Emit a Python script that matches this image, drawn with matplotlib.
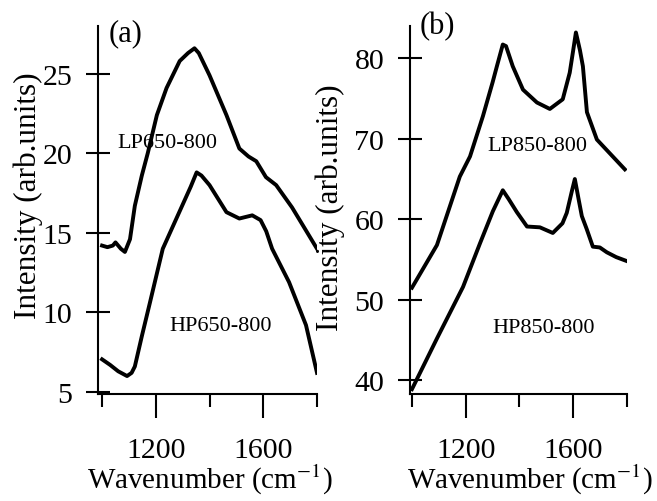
import matplotlib
matplotlib.use("Agg")
import matplotlib.pyplot as plt
from matplotlib.ticker import FixedLocator

plt.rcParams['font.family'] = ['Liberation Serif', 'DejaVu Serif']
plt.rcParams['mathtext.fontset'] = 'stix'

# (a) 650 series
a_lp_x = [1000, 1020, 1040, 1050, 1070, 1085, 1104, 1122, 1148, 1170, 1204, 1240, 1289,
          1320, 1344, 1360, 1400, 1463, 1511, 1545, 1574, 1610, 1648, 1707, 1750, 1800]
a_lp_y = [14.2, 14.1, 14.2, 14.4, 14.0, 13.8, 14.6, 16.7, 18.6, 20.0, 22.4, 24.1, 25.8,
          26.3, 26.6, 26.3, 24.9, 22.4, 20.3, 19.8, 19.5, 18.5, 18.0, 16.6, 15.4, 14.0]
a_hp_x = [1000, 1030, 1060, 1093, 1110, 1122, 1148, 1178, 1226, 1290, 1330, 1352, 1370,
          1400, 1463, 1511, 1559, 1590, 1611, 1633, 1696, 1759, 1800]
a_hp_y = [7.05, 6.7, 6.3, 6.0, 6.2, 6.6, 8.5, 10.6, 14.0, 16.4, 17.9, 18.8, 18.6,
          18.0, 16.3, 15.9, 16.1, 15.8, 15.1, 14.0, 11.9, 9.2, 6.2]

# (b) 850 series
b_lp_x = [1000, 1093, 1178, 1216, 1264, 1300, 1316, 1338, 1350, 1375, 1413, 1465, 1513,
          1561, 1587, 1600, 1610, 1625, 1636, 1651, 1688, 1747, 1792]
b_lp_y = [51.5, 56.8, 65.3, 67.8, 72.8, 77.0, 79.0, 81.7, 81.5, 79.0, 76.1, 74.5, 73.7,
          74.9, 78.2, 81.0, 83.2, 81.0, 79.0, 73.3, 69.9, 67.8, 66.2]
b_hp_x = [1000, 1093, 1190, 1253, 1301, 1338, 1360, 1390, 1428, 1476, 1524, 1560, 1576,
          1595, 1606, 1620, 1632, 1650, 1673, 1699, 1725, 1760, 1800]
b_hp_y = [38.9, 45.2, 51.6, 57.0, 61.0, 63.6, 62.5, 60.9, 59.1, 59.0, 58.3, 59.5, 60.8,
          63.5, 65.0, 62.5, 60.4, 58.8, 56.6, 56.5, 55.9, 55.3, 54.8]

fig = plt.figure(figsize=(6.57, 5.02), dpi=100)
ax1 = fig.add_axes([0.1492, 0.2131, 0.3333, 0.7331])
ax2 = fig.add_axes([0.6240, 0.2131, 0.3303, 0.7331])


def style(ax, yticks):
    for s in ['top', 'right']:
        ax.spines[s].set_visible(False)
    for s in ['left', 'bottom']:
        ax.spines[s].set_linewidth(1.5)
    ax.xaxis.set_major_locator(FixedLocator([1200, 1600]))
    ax.xaxis.set_minor_locator(FixedLocator([1000, 1400, 1800]))
    ax.set_yticks(yticks)
    ax.tick_params(axis='x', which='major', direction='out', length=17, width=1.5,
                   pad=14, labelsize=21.5)
    ax.tick_params(axis='x', which='minor', direction='out', length=9.5, width=1.5)
    ax.tick_params(axis='y', direction='inout', length=17, width=1.5, pad=10,
                   labelsize=21.5)
    ax.set_xlabel('Wavenumber (cm$^{\\mathrm{-1}}$)', fontsize=21)
    ax.set_ylabel('Intensity (arb.units)', fontsize=22.5)


ax1.plot(a_lp_x, a_lp_y, color='black', lw=2.8)
ax1.plot(a_hp_x, a_hp_y, color='black', lw=2.8)
ax1.set_xlim(985, 1800)
ax1.set_ylim(4.87, 28.0)
style(ax1, [5, 10, 15, 20, 25])
ax1.text(1244, 20.7, 'LP650-800', fontsize=16, ha='center', va='center')
ax1.text(1441, 9.15, 'HP650-800', fontsize=16, ha='center', va='center')
ax1.text(1089, 27.6, '(a)', fontsize=22, ha='center', va='center')
ax1.xaxis.set_label_coords(0.51, -0.185)
ax1.yaxis.set_label_coords(-0.25, 0.543)

ax2.plot(b_lp_x, b_lp_y, color='black', lw=2.8)
ax2.plot(b_hp_x, b_hp_y, color='black', lw=2.8)
ax2.set_xlim(992.6, 1800)
ax2.set_ylim(38.3, 84.0)
style(ax2, [40, 50, 60, 70, 80])
ax2.text(1468, 69.2, 'LP850-800', fontsize=16, ha='center', va='center')
ax2.text(1491, 46.6, 'HP850-800', fontsize=16, ha='center', va='center')
ax2.text(1093, 84.0, '(b)', fontsize=22, ha='center', va='center', clip_on=False)
ax2.xaxis.set_label_coords(0.555, -0.185)
ax2.yaxis.set_label_coords(-0.30, 0.508)

fig.savefig('out.png', dpi=100)
